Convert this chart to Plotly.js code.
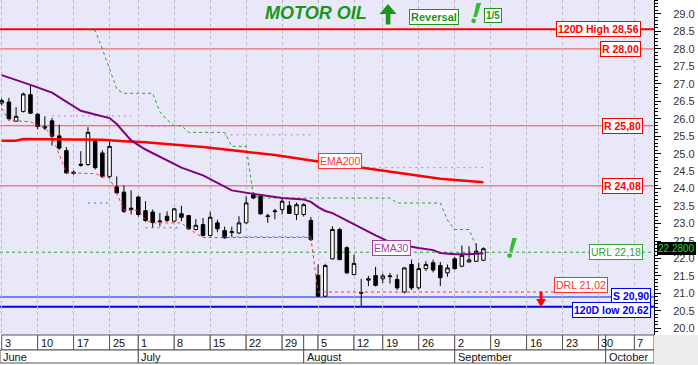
<!DOCTYPE html>
<html><head><meta charset="utf-8">
<script src="https://cdn.plot.ly/plotly-3.0.1.min.js"></script>
<style>html,body{margin:0;padding:0;background:#fff}#chart{width:698px;height:365px}</style>
</head><body><div id="chart"></div>
<script>
// ---- data (trading-day index 0 = 3 June) ----
const candleIdx = [];
for (let i = 0; i <= 67; i++) candleIdx.push(i);
const openP  = [26.45,26.48,25.93,26.21,26.69,26.13,25.77,25.94,25.51,25.09,24.47,24.70,24.69,25.35,25.02,24.35,24.05,23.90,23.40,23.76,23.37,23.33,23.05,23.21,23.07,23.28,23.23,22.83,22.97,22.66,23.02,22.80,22.74,22.73,23.02,23.83,23.78,23.20,23.34,23.40,23.51,23.26,23.26,23.09,21.52,20.92,21.99,22.83,22.31,21.54,21.03,21.38,21.51,21.42,21.48,21.40,21.04,21.83,21.16,21.71,21.88,21.80,21.59,21.99,21.78,21.90,21.92,21.95];
const highP  = [26.58,26.60,26.33,26.75,26.97,26.16,26.07,26.02,25.83,25.19,24.52,25.07,25.76,25.40,25.10,25.35,24.35,24.09,23.95,23.80,23.64,23.40,23.30,23.35,23.45,23.51,23.25,23.13,23.16,23.34,23.11,22.91,22.91,23.21,23.78,23.90,23.80,23.28,23.42,23.75,23.64,23.60,23.58,23.19,21.83,21.85,22.92,22.88,22.35,22.11,21.42,21.50,21.76,21.57,21.58,21.54,21.75,21.97,21.88,21.92,21.97,21.90,21.83,22.05,22.37,22.35,22.43,22.32];
const lowP   = [26.38,25.95,25.92,26.18,26.14,25.70,25.68,25.23,25.11,24.42,24.40,24.63,24.65,24.55,24.30,24.30,23.85,23.30,23.26,23.20,23.05,22.88,22.92,23.05,23.05,23.07,22.82,22.80,22.63,22.63,22.75,22.57,22.62,22.70,23.00,23.70,23.25,23.02,23.12,23.26,23.28,23.10,23.20,22.50,20.90,20.90,21.97,21.95,21.55,21.52,20.62,21.21,21.20,21.30,21.28,21.10,21.00,21.10,21.12,21.64,21.60,21.21,21.48,21.68,21.75,21.88,21.90,21.93];
const closeP = [26.52,26.00,26.07,26.71,26.16,25.78,25.74,25.50,25.16,24.45,24.44,24.67,25.61,24.60,24.35,25.21,23.88,23.35,23.44,23.26,23.09,23.03,23.07,23.09,23.42,23.18,22.85,22.95,22.66,23.18,22.85,22.59,22.77,23.02,23.59,23.73,23.28,23.22,23.36,23.64,23.29,23.54,23.54,22.54,20.92,21.80,22.83,21.97,21.59,21.86,21.01,21.42,21.23,21.50,21.50,21.16,21.73,21.16,21.71,21.83,21.67,21.45,21.73,21.71,22.09,21.96,22.21,22.28];

const ema30Idx = [0,2,4,7,9,11,13,15,16,17,18,20,23,25,28,30,32,35,37,39,42,43,44,45,46,48,50,52,54,56,58,60,61,63,65,67];
const ema30    = [27.25,27.10,26.97,26.75,26.48,26.23,26.12,26.02,25.85,25.62,25.38,25.12,24.82,24.60,24.38,24.16,23.95,23.85,23.78,23.73,23.69,23.62,23.47,23.36,23.30,23.08,22.88,22.66,22.47,22.37,22.30,22.24,22.16,22.12,22.12,22.15];
const ema200Idx = [0,2,3,12,14,17,20,25,28,33,38,44,50,56,61,67];
const ema200    = [25.37,25.37,25.42,25.42,25.40,25.36,25.33,25.24,25.19,25.08,24.96,24.78,24.60,24.42,24.28,24.18];

const urlTrailIdx = [12,13,14,15,16,17,21,22,23,24,25,26,31,32,34,35,36,54,55,61,62,63,65,66];
const urlTrail    = [28.55,28.52,28.00,27.45,26.85,26.73,26.73,26.20,25.97,25.80,25.80,25.61,25.61,25.21,25.21,23.80,23.73,23.73,23.59,23.59,23.10,22.83,22.83,22.35];
const drlTrailIdx = [0,1,4,5,6,7,9,13,14,15,16,17,19,20,21,25,26,28,43,44,84.5];
const drlTrail    = [26.30,25.95,25.92,25.80,25.74,25.50,24.45,24.43,24.35,24.30,23.88,23.38,23.38,23.10,23.02,23.02,22.85,22.60,22.60,21.04,21.04];
const pinkIdx = [[7,18],[20,24],[31,43],[50,67]];
const pinkVal = [26.08,25.78,25.54,24.60];
const blueIdx = [[12,15],[20,25],[31,43]];
const blueVal = [23.59,22.88,22.62];

const levels      = [28.56, 28.00, 25.80, 24.08, 22.18, 21.02, 20.90, 20.62];
const levelLabels = ['120D High 28,56','R 28,00','R 25,80','R 24,08','URL 22,18','DRL 21,02','S 20,90','120D low 20.62'];
const lastPrice = 22.28;

const tickIdx  = [0,5,10,15,19,24,29,34,39,42,44,49,53,58,63,68,73,78,83,84,88];
const tickText = ['3','10','17','25','1','8','15','22','29','','5','12','19','26','2','9','16','23','30','','7'];
const monthIdx  = [19,42,63,84];
const monthText = ['July','August','September','October'];
const firstMonth = 'June';

// ---- layout helpers ----
const PW = 654, PH = 335;
const px = x => x / PW;
const py = y => (PH - y) / PH;
const XR = [-0.236, 90.72];
const font = 'Arial, "Liberation Sans", sans-serif';
const pathPx = pts => 'M ' + pts.map(p => px(p[0]).toFixed(5) + ',' + py(p[1]).toFixed(5)).join(' L ') + ' Z';

const traces = [];
traces.push({type:'scatter', mode:'lines', x: drlTrailIdx, y: drlTrail, line:{color:'#ff3030', width:1, dash:'3px,3px'}, hoverinfo:'skip'});
pinkIdx.forEach((r,k)=>traces.push({type:'scatter', mode:'lines', x:r, y:[pinkVal[k],pinkVal[k]], line:{color:'#d070d0', width:1, dash:'2px,4px'}, hoverinfo:'skip'}));
blueIdx.forEach((r,k)=>traces.push({type:'scatter', mode:'lines', x:r, y:[blueVal[k],blueVal[k]], line:{color:'#5060ff', width:1, dash:'2px,4px'}, hoverinfo:'skip'}));
traces.push({type:'scatter', mode:'lines', x: urlTrailIdx, y: urlTrail, line:{color:'#30a030', width:1, dash:'3px,3px'}, hoverinfo:'skip'});
traces.push({type:'scatter', mode:'lines', x: ema200Idx, y: ema200, line:{color:'#ff0000', width:2.5}, hoverinfo:'skip'});
traces.push({type:'scatter', mode:'lines', x: ema30Idx, y: ema30, line:{color:'#800080', width:2}, hoverinfo:'skip'});
traces.push({type:'candlestick', x: candleIdx, open: openP, high: highP, low: lowP, close: closeP,
  increasing:{line:{color:'#000', width:1}, fillcolor:'#ffffff'},
  decreasing:{line:{color:'#000', width:1}, fillcolor:'#000000'}, whiskerwidth:0, hoverinfo:'skip'});

const shapes = [];
const lvlStyle = [
  {c:'#ff0000', w:2}, {c:'#ff4848', w:1}, {c:'#ff4848', w:1}, {c:'#ff4848', w:1},
  {c:'#30a030', w:1, d:'3px,3px'}, null, {c:'#7080ff', w:2}, {c:'#0000ee', w:2}];
levels.forEach((v,k)=>{
  const s = lvlStyle[k]; if(!s) return;
  shapes.push({type:'line', xref:'paper', yref:'y', x0:0, x1:1, y0:v, y1:v, line:{color:s.c, width:s.w, dash:s.d||'solid'}, layer:'below'});
});
// x label rows
const rowA = -15/PH, rowB = -28/PH;
for (let k = 0; k < tickIdx.length; k++) {
  const x0 = tickIdx[k], x1 = k+1 < tickIdx.length ? tickIdx[k+1] : XR[1];
  shapes.push({type:'rect', xref:'x', yref:'paper', x0, x1, y0:rowA, y1:0, line:{color:'#555', width:1}, fillcolor:'#ffffff'});
}
const mStarts = [XR[0]].concat(monthIdx);
for (let k = 0; k < mStarts.length; k++) {
  const x1 = k+1 < mStarts.length ? mStarts[k+1] : XR[1];
  shapes.push({type:'rect', xref:'x', yref:'paper', x0:mStarts[k], x1, y0:rowB, y1:rowA, line:{color:'#555', width:1}, fillcolor:'#ffffff'});
}
shapes.push({type:'rect', xref:'paper', yref:'paper', x0:1, x1:698/PW, y0:-30/PH, y1:0, line:{width:0}, fillcolor:'#ececec'});
// decorative signs: green up arrow, exclamation marks, red down arrow
const G1 = '#1a961a', G2 = '#33bb33';
shapes.push({type:'path', xref:'paper', yref:'paper', path: pathPx([[388,4],[379.5,14],[385.8,14],[385.8,24.5],[390.4,24.5],[390.4,14],[396.5,14]]), fillcolor:G1, line:{width:0}});
shapes.push({type:'path', xref:'paper', yref:'paper', path: pathPx([[476.5,3],[481.2,3],[476.8,17],[473.4,17]]), fillcolor:G2, line:{width:0}});
shapes.push({type:'circle', xref:'paper', yref:'paper', x0:px(471.3), x1:px(476.1), y0:py(23.2), y1:py(18.4), fillcolor:G2, line:{width:0}});
shapes.push({type:'path', xref:'paper', yref:'paper', path: pathPx([[512.3,238],[516.8,238],[512.6,251.5],[509.2,251.5]]), fillcolor:G2, line:{width:0}});
shapes.push({type:'circle', xref:'paper', yref:'paper', x0:px(507.2), x1:px(512), y0:py(258), y1:py(253.2), fillcolor:G2, line:{width:0}});
shapes.push({type:'path', xref:'paper', yref:'paper', path: pathPx([[539.6,291.5],[542.6,291.5],[542.6,299],[546,299],[541.1,307],[536.2,299],[539.6,299]]), fillcolor:'#ff0000', line:{width:0}});

const ann = [];
tickIdx.forEach((t,k)=>ann.push({xref:'x', yref:'paper', x:t, y:rowA/2, xanchor:'left', yanchor:'middle', text:tickText[k], showarrow:false, xshift:1, font:{family:font, size:11, color:'#111'}}));
[firstMonth].concat(monthText).forEach((m,k)=>ann.push({xref:'x', yref:'paper', x:mStarts[k], y:(rowA+rowB)/2, xanchor:'left', yanchor:'middle', text:m, showarrow:false, xshift:1, font:{family:font, size:11, color:'#111'}}));

const lblStyle = [
  {c:'#ff0000', b:true, r:641, s:0}, {c:'#ff0000', b:true, r:641, s:0}, {c:'#ff0000', b:true, r:643, s:0}, {c:'#ff0000', b:true, r:643, s:0},
  {c:'#30a030', b:false, r:643, s:0}, {c:'#ff3030', b:false, r:608, s:8}, {c:'#0000ee', b:true, r:651, s:1}, {c:'#0000ee', b:true, r:651, s:-3}];
levels.forEach((v,k)=>{
  const s = lblStyle[k];
  ann.push({xref:'paper', yref:'y', x:px(s.r), y:v, xanchor:'right', yanchor:'middle', showarrow:false,
    text: s.b ? '<b>'+levelLabels[k]+'</b>' : levelLabels[k], bgcolor:'#ffffff', bordercolor:s.c, borderwidth:1, borderpad:1,
    yshift: s.s, font:{family:font, size:10.5, color:s.c}});
});
ann.push({xref:'x', yref:'y', x:44, y:ema200[ema200Idx.indexOf(44)], xanchor:'left', yanchor:'middle', showarrow:false, text:'EMA200', bgcolor:'#ffffff', bordercolor:'#ff3030', borderwidth:1, borderpad:1, font:{family:font, size:10.5, color:'#ff3030'}});
ann.push({xref:'x', yref:'y', x:51.5, y:ema30[ema30Idx.indexOf(54)], xanchor:'left', yanchor:'middle', showarrow:false, yshift:-6, text:'EMA30', bgcolor:'#ffffff', bordercolor:'#a040a0', borderwidth:1, borderpad:1, font:{family:font, size:10.5, color:'#a040a0'}});
ann.push({xref:'paper', yref:'y', x:px(657), y:lastPrice, xanchor:'left', yanchor:'middle', showarrow:false, text:lastPrice.toFixed(4), bgcolor:'#000000', bordercolor:'#000', borderpad:0, font:{family:font, size:10, color:'#22dd22'}});
// title row
ann.push({xref:'paper', yref:'paper', x:px(316), y:py(13), xanchor:'center', yanchor:'middle', showarrow:false, text:'<b><i>MOTOR OIL</i></b>', font:{family:font, size:18, color:G1}});
ann.push({xref:'paper', yref:'paper', x:px(434), y:py(16.5), xanchor:'center', yanchor:'middle', showarrow:false, text:'<b>Reversal</b>', bgcolor:'#ffffff', bordercolor:G1, borderwidth:1, borderpad:1, font:{family:font, size:11, color:G1}});
ann.push({xref:'paper', yref:'paper', x:px(492.5), y:py(15), xanchor:'center', yanchor:'middle', showarrow:false, text:'<b>1/5</b>', bgcolor:'#ffffff', bordercolor:G1, borderwidth:1, borderpad:1, font:{family:font, size:10, color:G1}});

const layout = {
  width:698, height:365, margin:{l:0, r:44, t:0, b:30, pad:0},
  paper_bgcolor:'#ffffff', plot_bgcolor:'#e8e8f8', showlegend:false,
  xaxis:{range:XR, type:'linear', rangeslider:{visible:false}, showticklabels:false, ticks:'', zeroline:false,
    tickmode:'array', tickvals: tickIdx.filter((t,k)=>tickText[k]!==''), showgrid:true, gridcolor:'#b8b8c8', griddash:'3px,3px', gridwidth:1, showline:false, fixedrange:true},
  yaxis:{range:[19.81, 29.4], side:'right', dtick:0.5, tick0:20, tickformat:'.1f', ticks:'outside', ticklen:6, tickcolor:'#000', tickwidth:1,
    showline:true, linecolor:'#000', linewidth:1, showgrid:false, zeroline:false, ticklabelstandoff:10,
    tickfont:{family:font, size:11, color:'#333'}, minor:{dtick:0.1, ticks:'outside', ticklen:3, tickcolor:'#000', showgrid:false}},
  shapes, annotations: ann
};
Plotly.newPlot('chart', traces, layout, {staticPlot:true, displayModeBar:false});
</script></body></html>
